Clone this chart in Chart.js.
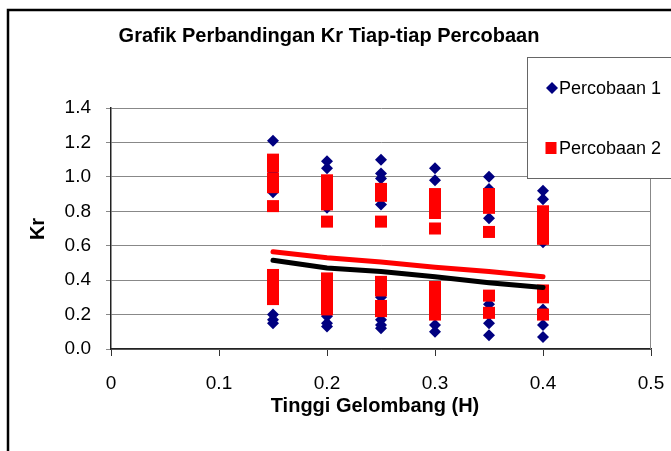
<html>
  <head>
    <meta charset="utf-8">
    <title>Grafik Perbandingan Kr</title>
    <script src="https://cdn.jsdelivr.net/npm/chart.js@4.4.1/dist/chart.umd.min.js"></script>
    <style>
      body { margin: 0; background: #fff; }
    </style>
  </head>
  <body>
    <canvas id="myChart" width="671" height="451"></canvas>
    <script type="text/javascript">
      // tinggi gelombang (H)
      const heights = [0.15, 0.2, 0.25, 0.3, 0.35, 0.4];
      // Kr per column
      const percobaan1 = [
        [1.21, 1.02, 0.97, 0.91, 0.20, 0.17, 0.15],
        [1.09, 1.05, 0.82, 0.19, 0.15, 0.13],
        [1.10, 1.02, 0.99, 0.84, 0.30, 0.17, 0.14, 0.12],
        [1.05, 0.98, 0.83, 0.29, 0.14, 0.10],
        [1.00, 0.93, 0.76, 0.26, 0.20, 0.15, 0.08],
        [0.92, 0.87, 0.62, 0.23, 0.14, 0.07]
      ];
      const percobaan2 = [
        [1.10, 1.06, 0.99, 0.94, 0.83, 0.43, 0.39, 0.35, 0.31, 0.29],
        [0.98, 0.94, 0.90, 0.87, 0.84, 0.74, 0.41, 0.37, 0.33, 0.29, 0.26, 0.23],
        [0.93, 0.89, 0.74, 0.39, 0.34, 0.25, 0.22],
        [0.90, 0.85, 0.79, 0.70, 0.36, 0.32, 0.28, 0.24, 0.20],
        [0.90, 0.86, 0.82, 0.68, 0.31, 0.21],
        [0.80, 0.76, 0.72, 0.68, 0.64, 0.34, 0.30, 0.20]
      ];
      // trend lines
      const trend1 = [0.515, 0.47, 0.45, 0.42, 0.385, 0.357];
      const trend2 = [0.565, 0.53, 0.505, 0.475, 0.45, 0.42];

      const yTicks = [0, 0.2, 0.4, 0.6, 0.8, 1.0, 1.2, 1.4];
      const xTicks = [0, 0.1, 0.2, 0.3, 0.4, 0.5];

      const FONT = '"Liberation Sans", Arial, sans-serif';
      const toPoints = (cols) => cols.flatMap((vals, i) => vals.map(v => ({x: heights[i], y: v})));
      const toLine = (vals) => vals.map((v, i) => ({x: heights[i], y: v}));

      const decor = {
        id: 'decor',
        beforeDatasetsDraw(chart) {
          const {ctx, chartArea: a} = chart;
          ctx.save();
          ctx.strokeStyle = '#888';
          ctx.lineWidth = 1;
          ctx.beginPath();
          ctx.moveTo(a.right - 0.5, a.top);
          ctx.lineTo(a.right - 0.5, a.bottom);
          ctx.stroke();
          ctx.restore();
        },
        afterDraw(chart) {
          const ctx = chart.ctx;
          ctx.save();
          // outer frame
          ctx.strokeStyle = '#000';
          ctx.lineWidth = 2.5;
          ctx.strokeRect(8, 10, 700, 500);
          // titles
          ctx.fillStyle = '#000';
          ctx.textAlign = 'center';
          ctx.textBaseline = 'middle';
          ctx.font = 'bold 20px ' + FONT;
          ctx.fillText('Grafik Perbandingan Kr Tiap-tiap Percobaan', 329, 36);
          ctx.fillText('Tinggi Gelombang (H)', 375, 406);
          ctx.save();
          ctx.translate(38, 229);
          ctx.rotate(-Math.PI / 2);
          ctx.fillText('Kr', 0, 0);
          ctx.restore();
          // legend
          ctx.fillStyle = '#fff';
          ctx.fillRect(527.5, 57.5, 200, 121);
          ctx.strokeStyle = '#666';
          ctx.lineWidth = 1;
          ctx.strokeRect(527.5, 57.5, 200, 121);
          ctx.fillStyle = '#000080';
          ctx.beginPath();
          ctx.moveTo(552, 82); ctx.lineTo(558, 88); ctx.lineTo(552, 94); ctx.lineTo(546, 88);
          ctx.closePath();
          ctx.fill();
          ctx.fillStyle = '#ff0000';
          ctx.fillRect(545.5, 142, 11, 12);
          ctx.fillStyle = '#000';
          ctx.textAlign = 'left';
          ctx.font = '18px ' + FONT;
          ctx.fillText('Percobaan 1', 559, 89);
          ctx.fillText('Percobaan 2', 559, 149);
          ctx.restore();
        }
      };

      var ctx = document.getElementById('myChart').getContext('2d');
      var chart = new Chart(ctx, {
        type: 'scatter',
        data: {
          datasets: [{
            label: 'Percobaan 1',
            data: toPoints(percobaan1),
            pointStyle: 'rectRot',
            pointRadius: 6,
            pointBorderWidth: 0,
            backgroundColor: '#000080',
            borderColor: '#000080',
            order: 3
          }, {
            label: 'Percobaan 2',
            data: toPoints(percobaan2),
            pointStyle: 'rect',
            pointRadius: 8.5,
            pointBorderWidth: 0,
            backgroundColor: '#ff0000',
            borderColor: '#ff0000',
            order: 2
          }, {
            type: 'line',
            label: 'Trend 1',
            data: toLine(trend1),
            borderColor: '#000',
            borderWidth: 5,
            borderCapStyle: 'round',
            pointRadius: 0,
            fill: false,
            order: 1
          }, {
            type: 'line',
            label: 'Trend 2',
            data: toLine(trend2),
            borderColor: '#ff0000',
            borderWidth: 5,
            borderCapStyle: 'round',
            pointRadius: 0,
            fill: false,
            order: 0
          }]
        },
        options: {
          responsive: false,
          animation: false,
          layout: { padding: { left: 0, top: 108, right: 20, bottom: 0 } },
          plugins: {
            legend: { display: false },
            title: { display: false },
            tooltip: { enabled: false }
          },
          scales: {
            x: {
              type: 'linear',
              min: 0,
              max: 0.5,
              afterFit: (s) => { s.height = 102; s.paddingLeft = 0; s.paddingRight = 0; },
              afterBuildTicks: (s) => { s.ticks = xTicks.map(v => ({value: v})); },
              ticks: {
                color: '#000',
                padding: 16,
                font: { family: FONT, size: 19 },
                callback: (v) => v === 0 ? '0' : v.toFixed(1)
              },
              grid: { drawOnChartArea: false, drawTicks: true, tickLength: 7, color: '#333' },
              border: { display: true, color: '#222', width: 1.5 }
            },
            y: {
              min: 0,
              max: 1.4,
              afterFit: (s) => { s.width = 111; s.paddingTop = 0; s.paddingBottom = 0; },
              afterBuildTicks: (s) => { s.ticks = yTicks.map(v => ({value: v})); },
              ticks: {
                color: '#000',
                padding: 15,
                font: { family: FONT, size: 19 },
                callback: (v) => v.toFixed(1)
              },
              grid: { color: '#888', lineWidth: 1, drawTicks: true, tickLength: 5 },
              border: { display: true, color: '#222', width: 1.5 }
            }
          }
        },
        plugins: [decor]
      });

      // pin the plot area to where it sits in the picture
      const target = { left: 111, right: 651, top: 108, bottom: 349 };
      const pad = chart.options.layout.padding;
      let a = chart.chartArea;
      pad.left += target.left - a.left;
      pad.right += a.right - target.right;
      pad.top += target.top - a.top;
      pad.bottom += a.bottom - target.bottom;
      chart.update();
    </script>
  </body>
</html>
